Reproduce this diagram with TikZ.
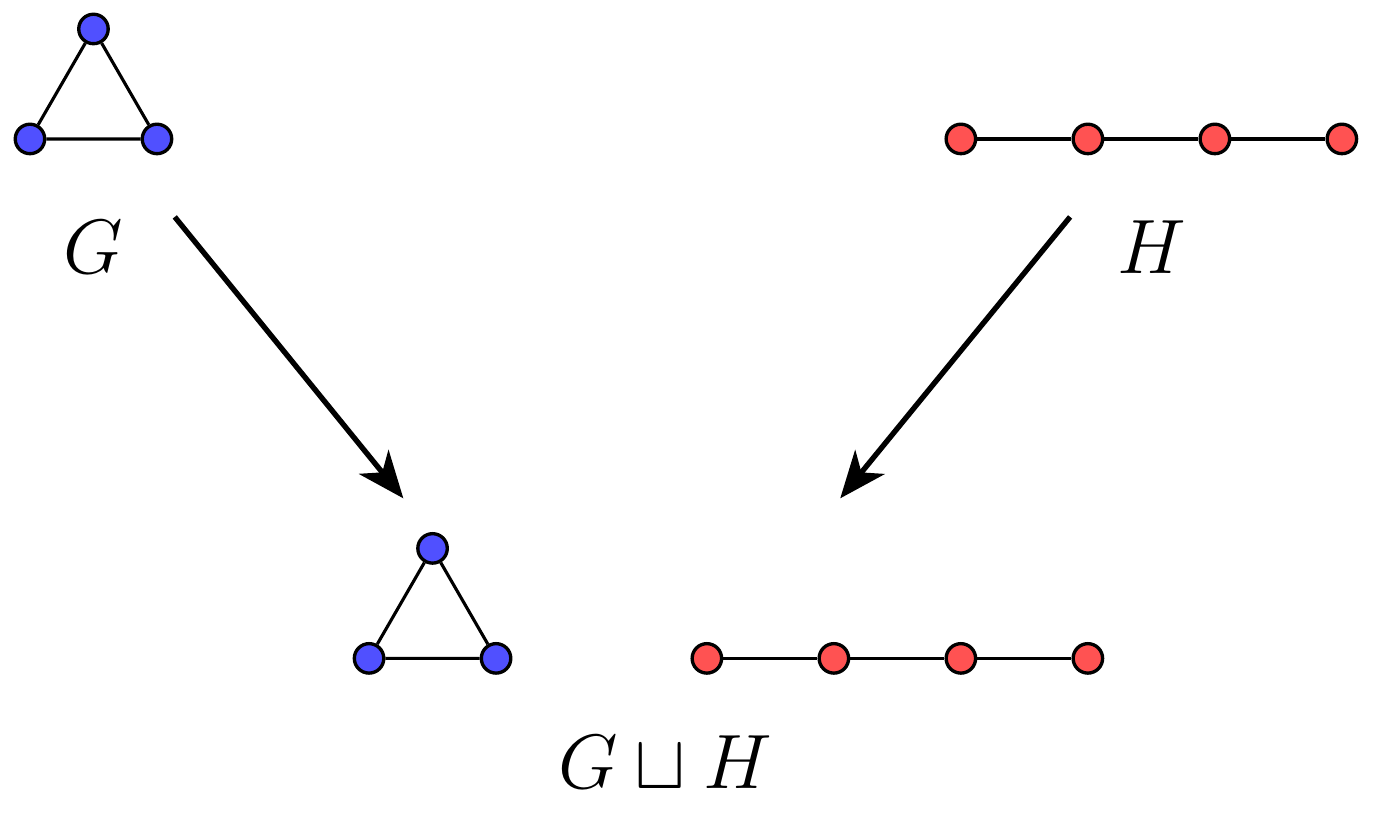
\documentclass[tikz,border=0pt]{standalone}
\usepackage{tikz}
\usetikzlibrary{arrows.meta, positioning}
\definecolor{azul}{RGB}{80, 80, 255}
\definecolor{vermelho}{RGB}{255, 82, 82}
\tikzset{
  vertice/.style={circle, draw, line width=0.75pt, minimum size=6.6pt, inner sep=0pt},
  verticeG/.style={vertice, fill=azul},
  verticeH/.style={vertice, fill=vermelho},
  aresta/.style={line width=0.7pt},
  rotulo/.style={font=\fontsize{16.2}{19}\selectfont},
}

\begin{document}
\begin{tikzpicture}[
    seta/.style={
        -{Stealth[length=10.5pt, width=8.5pt, inset=3pt]},
        line width=1.2pt
    }
]
\useasboundingbox (-0.236,1.094) rectangle (10.583,-5.402);

% grafo G
\node[verticeG] (g1) at (0,0) {};
\node[verticeG] (g2) at (1,0) {};
\node[verticeG] (g3) at (0.5,0.866) {};
\draw[aresta] (g1) -- (g2) -- (g3) -- (g1);
\node[rotulo] (G) at (0.5,-0.85) {$G$};

% grafo H
\node[verticeH] (h1) at (7.33,0) {};
\node[verticeH] (h2) at (8.33,0) {};
\node[verticeH] (h3) at (9.33,0) {};
\node[verticeH] (h4) at (10.33,0) {};
\draw[aresta] (h1) -- (h2) -- (h3) -- (h4);
\node[rotulo] (H) at (8.83,-0.85) {$H$};

% uniao disjunta
\node[verticeG] (u1) at (2.67,-4.09) {};
\node[verticeG] (u2) at (3.67,-4.09) {};
\node[verticeG] (u3) at (3.17,-3.224) {};
\draw[aresta] (u1) -- (u2) -- (u3) -- (u1);
\node[verticeH] (v1) at (5.33,-4.09) {};
\node[verticeH] (v2) at (6.33,-4.09) {};
\node[verticeH] (v3) at (7.33,-4.09) {};
\node[verticeH] (v4) at (8.33,-4.09) {};
\draw[aresta] (v1) -- (v2) -- (v3) -- (v4);
\node[rotulo] (GH) at (5.0,-4.91) {$G \sqcup H$};

\coordinate (sG) at (1.14,-0.614);
\coordinate (tG) at (2.94,-2.83);
\coordinate (sH) at (8.19,-0.614);
\coordinate (tH) at (6.38,-2.83);
\draw[seta] (sG) -- (tG);
\draw[seta] (sH) -- (tH);

\end{tikzpicture}
\end{document}
